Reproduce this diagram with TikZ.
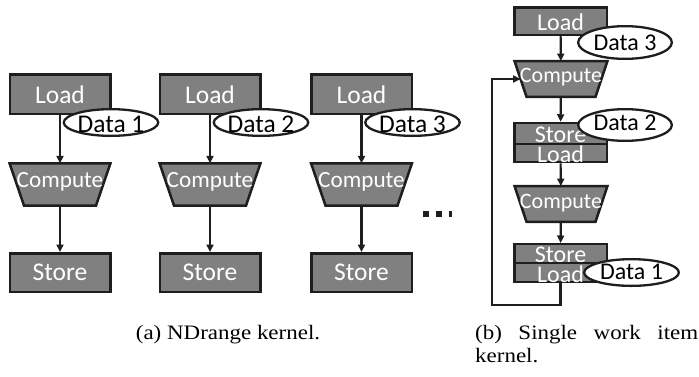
\documentclass[tikz,border=0pt]{standalone}
\usepackage{fontspec}
\setmainfont{Liberation Serif}
\newfontfamily\boxfont{Carlito}
\newfontfamily\capfont[FakeStretch=1.12]{Liberation Serif}
\usetikzlibrary{arrows.meta,shapes.geometric}

\definecolor{boxgray}{RGB}{128,128,128}
\definecolor{edgeink}{RGB}{30,30,30}

\pgfdeclarelayer{background}
\pgfsetlayers{background,main}

% text lowered so that its baseline sits #1 below the node centre
\newcommand\dropby[2]{\raisebox{-#1}{#2}}
\newcommand\bfs[1]{\boxfont\fontsize{#1}{#1}\selectfont}

\tikzset{
  blkline/.style={draw=edgeink, line width=2.5pt, fill=boxgray, line join=miter},
  blk/.style={blkline, text=white,
    inner sep=0pt, text height=0pt, text depth=0pt, font=\bfs{25.5}},
  bigbox/.style={blk, minimum width=100.5pt},
  smallbox/.style={blk, minimum width=92.5pt, font=\bfs{24}},
  % frame of a compute stage; its outline is drawn by \trapedge
  trapframe/.style={draw=none, fill=none, text=white, inner sep=0pt,
    text height=0pt, text depth=0pt},
  tag/.style={ellipse, draw=edgeink, line width=2.3pt, fill=white, text=black,
    inner sep=0pt, text height=0pt, text depth=0pt, font=\bfs{25.5}},
  conn/.style={draw=edgeink, line width=2.2pt, -{Triangle[length=7.5pt,width=7pt]}},
  captxt/.style={inner sep=0pt, text=black, font=\capfont\fontsize{20.5}{24}\selectfont},
}

% inverted trapezoid filling the frame node #1, bottom corners pulled in by #2
\newcommand\trapedge[2]{%
  \begin{pgfonlayer}{background}
    \path[blkline] (#1.north west) -- (#1.north east)
      -- ([xshift=-#2]#1.south east) -- ([xshift=#2]#1.south west) -- cycle;
  \end{pgfonlayer}}

\begin{document}
\begin{tikzpicture}[x=1pt, y=-1pt]
\begin{pgfonlayer}{background}
\fill[white] (0,0) rectangle (699,376);
\end{pgfonlayer}
\useasboundingbox (0,0) rectangle (699,376);

% ---- (a) three independent work items ----
\foreach \cx/\i in {60/1, 210/2, 361.5/3} {
  \node[bigbox, minimum height=39.5pt] (la\i) at (\cx,94) {\dropby{9pt}{Load}};
  \node[trapframe, minimum width=100.5pt, minimum height=42pt, font=\bfs{23.2}]
    (ca\i) at (\cx,184.5) {\dropby{2.5pt}{Compute}};
  \trapedge{ca\i}{14.5pt}
  \node[bigbox, minimum height=38.5pt] (sa\i) at (\cx,272.5) {\dropby{7.5pt}{Store}};
  \draw[conn] (la\i) -- (ca\i);
  \draw[conn] (ca\i) -- (sa\i);
  \node[tag, minimum width=89.7pt, minimum height=26.7pt] (da\i) at (\cx+51,122.5) {\dropby{10pt}{Data \i}};
}

% continuation marks
\fill[edgeink] (423,211) rectangle (429,217);
\fill[edgeink] (436,211) rectangle (442,217);
\fill[edgeink] (449,211) rectangle (451.5,217);

% ---- (b) single work item pipeline ----
\node[smallbox, minimum height=27.5pt] (lb0) at (560.5,21) {\dropby{9pt}{Load}};
\node[trapframe, minimum width=92.5pt, minimum height=35.5pt, font=\bfs{22}]
  (cb1) at (561,79) {\dropby{3pt}{Compute}};
\trapedge{cb1}{12pt}
\node[smallbox, minimum height=21pt] (sb1) at (560.5,133.5) {\dropby{8.5pt}{Store}};
\node[smallbox, minimum height=18pt] (lb1) at (560.5,153) {\dropby{9pt}{Load}};
\node[trapframe, minimum width=92.5pt, minimum height=35.5pt, font=\bfs{22}]
  (cb2) at (561,204) {\dropby{4pt}{Compute}};
\trapedge{cb2}{12pt}
\node[smallbox, minimum height=18.75pt] (sb2) at (560.5,253.6) {\dropby{8.4pt}{Store}};
\node[smallbox, minimum height=18.75pt] (lb2) at (560.5,272.4) {\dropby{9.6pt}{Load}};

\coordinate (loopc) at (492,305);
\draw[conn] (lb0) -- (cb1);
\draw[conn] (cb1) -- (sb1);
\draw[conn] (lb1) -- (cb2);
\draw[conn] (cb2) -- (sb2);
\draw[conn] (lb2.south) |- (loopc) |- ([xshift=6pt]cb1.west);

\node[tag, minimum width=93.7pt, minimum height=32.7pt, font=\bfs{24}] (db3) at (625,42.5) {\dropby{7.5pt}{Data 3}};
\node[tag, minimum width=93.7pt, minimum height=31.7pt, font=\bfs{24}] (db2) at (625,125) {\dropby{5pt}{Data 2}};
\node[tag, minimum width=94.7pt, minimum height=26.7pt, font=\bfs{24}] (db1) at (631.5,272.5) {\dropby{6.5pt}{Data 1}};

% ---- captions ----
\node[captxt, anchor=base] (capa) at (228,339) {(a) NDrange kernel.};
\node[captxt, anchor=base west] (capb1) at (475,339) {\makebox[223pt][s]{(b) Single work item}};
\node[captxt, anchor=base west] (capb2) at (475,362) {kernel.};
\end{tikzpicture}
\end{document}
